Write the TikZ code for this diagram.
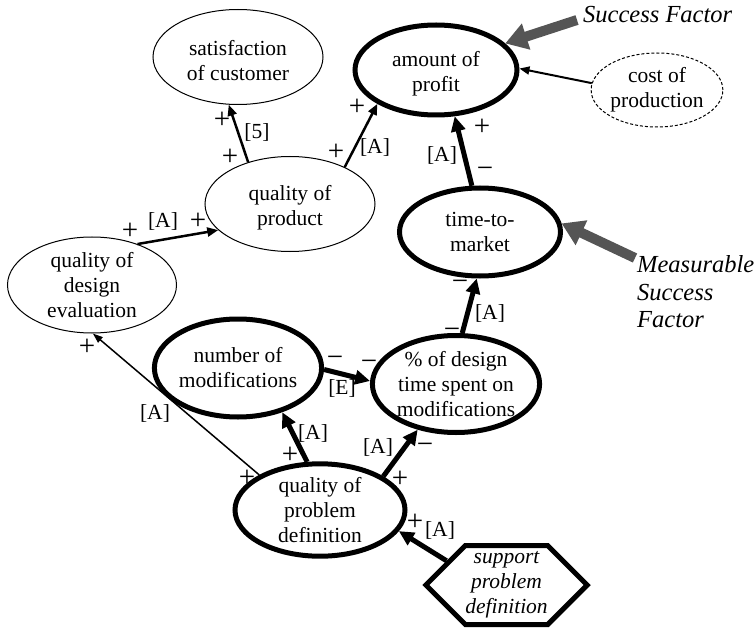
\documentclass[tikz,border=0pt]{standalone}
\usepackage{fontspec}
\setmainfont{Liberation Serif}
\usetikzlibrary{shapes.geometric,shapes.symbols,arrows.meta}
\definecolor{arrowgray}{RGB}{85,85,85}
\tikzset{
 base/.style={font=\fontsize{21.5bp}{25bp}\selectfont, align=center},
 thinell/.style={base, ellipse, draw, line width=1bp, inner sep=0pt},
 thickell/.style={base, ellipse, draw, line width=5bp, inner sep=0pt},
 dashell/.style={base, ellipse, draw, line width=1bp, inner sep=0pt, dash pattern=on 3bp off 2bp},
 hexa/.style={base, shape=signal, signal to=west and east, signal pointer angle=90, draw, line width=5bp, inner sep=0pt, minimum width=161bp, minimum height=79bp},
 lbl/.style={base, inner sep=0pt},
 sign/.style={font=\fontsize{29bp}{30bp}\selectfont, inner sep=0pt},
 side/.style={font=\fontsize{24.5bp}{27.5bp}\selectfont\itshape, align=left, inner sep=0pt},
 strong/.style={line width=5bp, -{Triangle[length=15bp,width=14bp]}},
 weak/.style={line width=2.5bp, -{Triangle[length=11bp,width=9bp]}},
 faint/.style={line width=1.5bp, -{Triangle[length=10bp,width=7bp]}},
 pointer/.style={draw=arrowgray, line width=10bp, -{Triangle[length=22bp,width=26bp]}},
}
\newcommand{\topstrut}{\rule{0pt}{23bp}}
\begin{document}
\begin{tikzpicture}[x=1bp,y=-1bp]
\useasboundingbox (0,0) rectangle (755,628);
% nodes
\node[thinell, minimum width=170bp, minimum height=95bp] (sat) at (238,57) {\topstrut satisfaction\\of customer};
\node[thickell, minimum width=162bp, minimum height=90bp] (amt) at (436,70) {\topstrut amount of\\profit};
\node[dashell, minimum width=127bp, minimum height=74bp] (cost) at (657,90) {cost of\\production};
\node[thickell, minimum width=161bp, minimum height=88bp] (ttm) at (480,232) {time-to-\\market};
\node[thinell, minimum width=170bp, minimum height=95bp] (qp) at (290,204) {\topstrut quality of\\product};
\node[thinell, minimum width=169bp, minimum height=96bp] (qde) at (92,285) {quality of\\design\\evaluation};
\node[thickell, minimum width=165bp, minimum height=98bp] (nm) at (238,368) {number of\\modifications};
\node[thickell, minimum width=163bp, minimum height=97bp] (pct) at (456,384) {\% of design\\time spent on\\modifications};
\node[thickell, minimum width=170bp, minimum height=90bp] (qpd) at (320,510) {quality of\\problem\\definition};
\node[hexa] (sup) at (506.5,585) {\itshape support\\\itshape problem\\\itshape definition};
\node[side, anchor=west] (sf) at (583,15) {Success Factor};
\node[side, anchor=west] (msf) at (637,292) {Measurable\\Success\\Factor};
\coordinate (sfTail) at (577,20);
\coordinate (msfTail) at (635,258);
% connectors
\draw[weak] (qp.135) -- (sat.-101);
\draw[weak] (qp.34) -- (amt.-150);
\draw[strong] (ttm.100) -- (amt.-68);
\draw[line width=2bp, -{Triangle[length=10bp,width=8bp]}] (cost.174) -- (amt.1);
\draw[weak] (qde.42) -- (qp.-160);
\draw[faint] (qpd.150.5) -- (qde.-89);
\draw[strong] (qpd.105.5) -- (nm.-45);
\draw[strong] (nm.-1) -- (pct.178);
\draw[strong] (qpd.28) -- (pct.-130);
\draw[strong] (pct.83) -- (ttm.-94);
\draw[strong] (sup.158.5) -- (qpd.-15.7);
\draw[pointer] (sfTail) -- (amt.21.5);
\draw[pointer] (msfTail) -- (ttm.6.7);
% labels
\node[sign] (l1) at (222,120) {+};
\node[lbl] (l2) at (257,132) {[5]};
\node[sign] (l3) at (230,157) {+};
\node[sign] (l4) at (357,107) {+};
\node[sign] (l5) at (336,152) {+};
\node[lbl] (l6) at (375,147) {[A]};
\node[lbl] (l7) at (442,155) {[A]};
\node[sign] (l8) at (482,127) {+};
\node[sign] (l9) at (485,172) {−};
\node[sign] (l10) at (130,231) {+};
\node[lbl] (l11) at (163,221) {[A]};
\node[sign] (l12) at (198,221) {+};
\node[sign] (l13) at (87,347) {+};
\node[lbl] (l14) at (155,413) {[A]};
\node[sign] (l15) at (247,478) {+};
\node[sign] (l16) at (268,418) {−};
\node[lbl] (l17) at (313,433) {[A]};
\node[sign] (l18) at (290,455) {+};
\node[sign] (l19) at (335,361) {−};
\node[lbl] (l20) at (342,388) {[E]};
\node[sign] (l21) at (369,365) {−};
\node[lbl] (l22) at (378,447) {[A]};
\node[sign] (l23) at (425,448) {−};
\node[sign] (l24) at (400,479) {+};
\node[sign] (l25) at (460,285) {−};
\node[lbl] (l26) at (490,313) {[A]};
\node[sign] (l27) at (452,333) {−};
\node[sign] (l28) at (415,522) {+};
\node[lbl] (l29) at (440,530) {[A]};
\end{tikzpicture}
\end{document}
